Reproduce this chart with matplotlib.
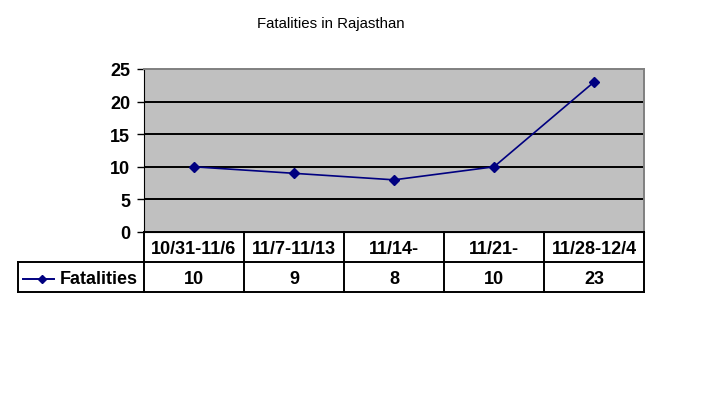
import numpy as np
import matplotlib.pyplot as plt

plt.rcParams['font.family'] = ['Liberation Sans', 'DejaVu Sans']

weeks = ['10/31-11/6', '11/7-11/13', '11/14-', '11/21-', '11/28-12/4']
fatalities = [10, 9, 8, 10, 23]
y_ticks = [0, 5, 10, 15, 20, 25]

W, H = 723, 406
fig = plt.figure(figsize=(W / 100, H / 100), dpi=100)
fig.patch.set_facecolor('white')

# plot area in pixel coords: x 144-644, y 70-233
ax = fig.add_axes([144 / W, (H - 233) / H, 500 / W, 163 / H])
ax.set_facecolor('#c0c0c0')
x = np.arange(len(weeks))
for t in y_ticks[1:-1]:
    ax.axhline(t, color='black', lw=1.4, zorder=1)
ax.plot(x, fatalities, color='#000080', lw=1.2, marker='D', ms=5, zorder=3)
ax.set_xlim(-0.5, len(weeks) - 0.5)
ax.set_ylim(0, 25)
ax.set_yticks(y_ticks)
ax.set_yticklabels([str(t) for t in y_ticks], fontsize=13, fontweight='bold')
ax.set_xticks([])
ax.tick_params(axis='y', length=5, width=1, pad=5)
for s in ['top', 'right']:
    ax.spines[s].set_color('#808080')
    ax.spines[s].set_linewidth(1.4)
ax.spines['left'].set_color('black')
ax.spines['bottom'].set_color('black')

fig.text(331 / W, 1 - 24 / H, 'Fatalities in Rajasthan', fontsize=10.8,
         ha='center', va='center')

# data table below the plot, pixel x 18-644, y 233-293
tab = fig.add_axes([18 / W, (H - 293) / H, 626 / W, 60 / H])
left = -0.5 - 126 / 100
tab.set_xlim(left, len(weeks) - 0.5)
tab.set_ylim(0, 2)
tab.axis('off')
kw = dict(color='black', lw=1.4, clip_on=False)
tab.plot([-0.5, len(weeks) - 0.5], [2, 2], **kw)
tab.plot([left, len(weeks) - 0.5], [1, 1], **kw)
tab.plot([left, len(weeks) - 0.5], [0, 0], **kw)
tab.plot([left, left], [0, 1], **kw)
for i in range(len(weeks) + 1):
    tab.plot([i - 0.5, i - 0.5], [0, 2], **kw)
for i, (w, v) in enumerate(zip(weeks, fatalities)):
    tab.text(i, 1.45, w, ha='center', va='center', fontsize=13, fontweight='bold')
    tab.text(i, 0.45, str(v), ha='center', va='center', fontsize=13, fontweight='bold')
tab.plot([left + 0.05, left + 0.36], [0.45, 0.45], color='#000080', lw=1.4,
         clip_on=False)
tab.plot([left + 0.24], [0.45], color='#000080', marker='D', ms=4, clip_on=False)
tab.text(left + 0.42, 0.45, 'Fatalities', ha='left', va='center',
         fontsize=13, fontweight='bold')

fig.savefig('out.png', dpi=100)
